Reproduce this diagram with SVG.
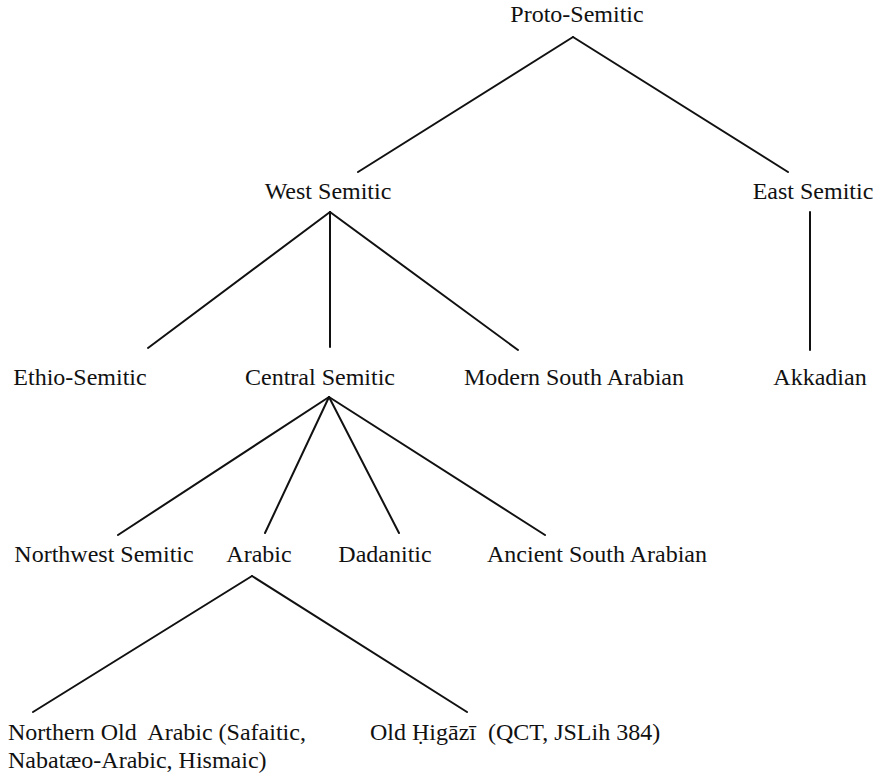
<svg xmlns="http://www.w3.org/2000/svg" width="880" height="778" viewBox="0 0 880 778">
<style>
.t{font-family:"Liberation Serif","Times New Roman",serif;font-size:24px;fill:#111}
.m{text-anchor:middle}
.c line{stroke:#111;stroke-width:2;stroke-linecap:round}
</style>
<rect width="880" height="778" fill="#ffffff"/>
<g class="c" id="connectors">
<line x1="573" y1="37" x2="358" y2="172"/>
<line x1="573" y1="37" x2="788" y2="172"/>
<line x1="330" y1="212" x2="148" y2="348"/>
<line x1="330" y1="212" x2="330" y2="347"/>
<line x1="330" y1="212" x2="518" y2="350"/>
<line x1="810" y1="212" x2="810" y2="350"/>
<line x1="329" y1="397" x2="118" y2="535"/>
<line x1="329" y1="397" x2="265" y2="533"/>
<line x1="329" y1="397" x2="399" y2="533"/>
<line x1="329" y1="397" x2="545" y2="535"/>
<line x1="252" y1="576" x2="33" y2="712"/>
<line x1="252" y1="576" x2="467" y2="712"/>
</g>
<g id="proto-semitic"><text class="t m" x="577" y="22">Proto-Semitic</text></g>
<g id="west-semitic"><text class="t m" x="328" y="199">West Semitic</text></g>
<g id="east-semitic"><text class="t m" x="813" y="199">East Semitic</text></g>
<g id="ethio-semitic"><text class="t m" x="80" y="385">Ethio-Semitic</text></g>
<g id="central-semitic"><text class="t m" x="320" y="385">Central Semitic</text></g>
<g id="modern-south-arabian"><text class="t m" x="574" y="385">Modern South Arabian</text></g>
<g id="akkadian"><text class="t m" x="820" y="385">Akkadian</text></g>
<g id="northwest-semitic"><text class="t m" x="104" y="562">Northwest Semitic</text></g>
<g id="arabic"><text class="t m" x="259" y="562">Arabic</text></g>
<g id="dadanitic"><text class="t m" x="385" y="562">Dadanitic</text></g>
<g id="ancient-south-arabian"><text class="t m" x="597" y="562">Ancient South Arabian</text></g>
<g id="northern-old-arabic"><text class="t" x="8" y="740" xml:space="preserve">Northern Old  Arabic (Safaitic,</text><text class="t" x="8" y="768">Nabatæo-Arabic, Hismaic)</text></g>
<g id="old-higazi"><text class="t" x="370" y="740" xml:space="preserve">Old Ḥigāzī  (QCT, JSLih 384)</text></g>
</svg>
